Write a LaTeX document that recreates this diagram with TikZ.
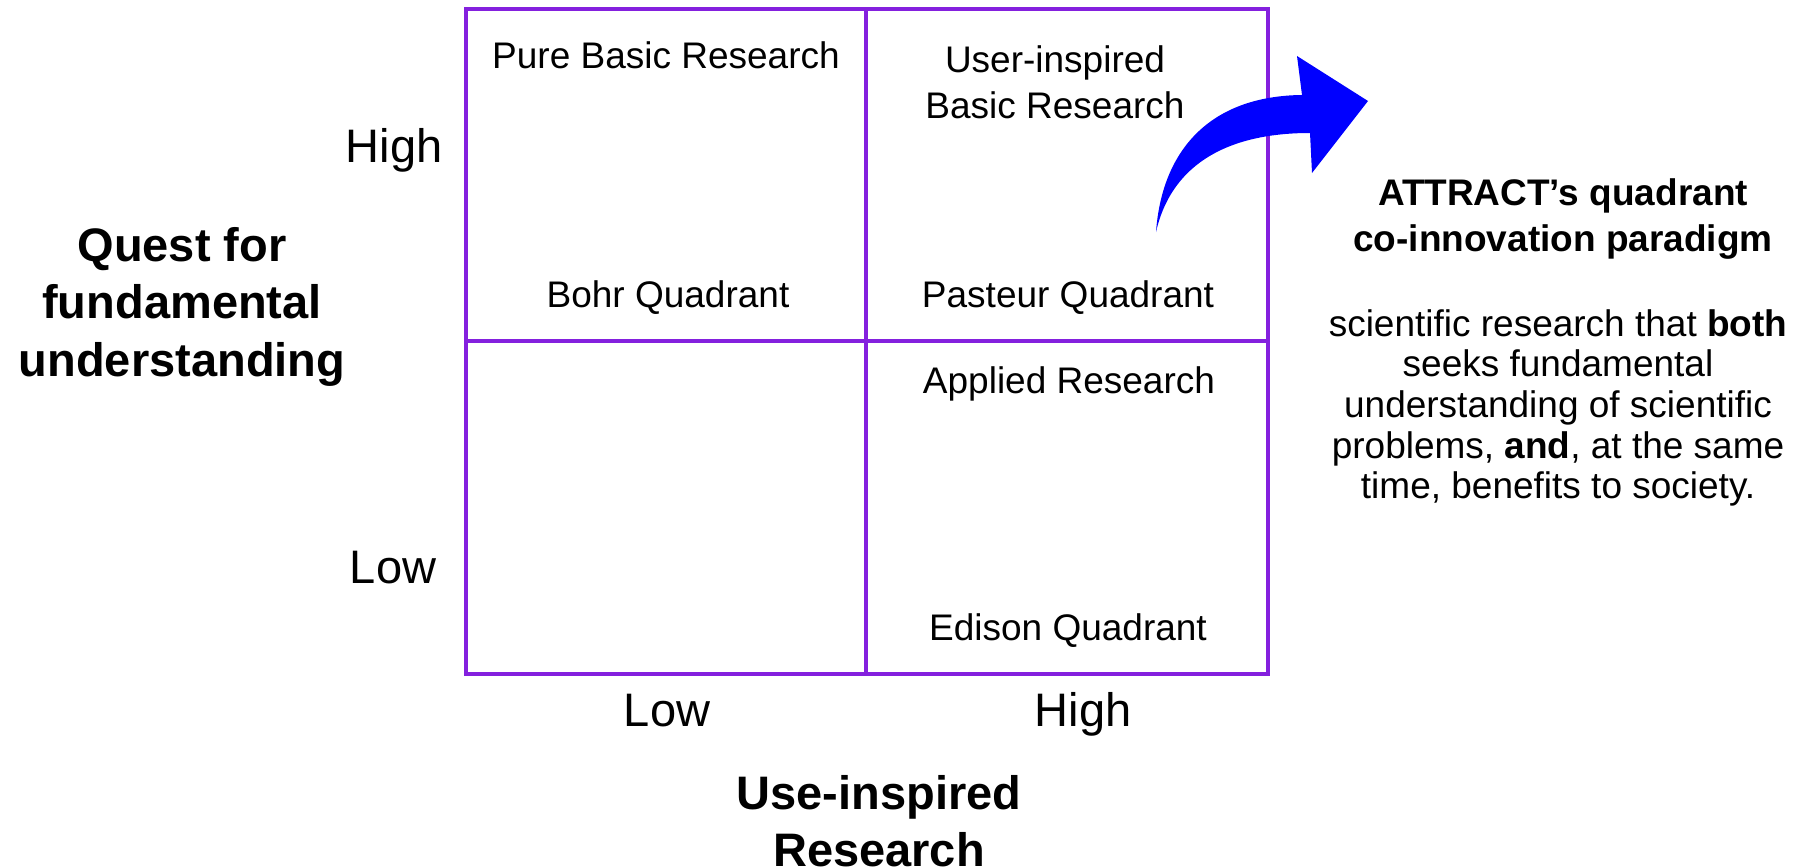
\documentclass[tikz,border=0pt]{standalone}
\usepackage{fontspec}
\setmainfont{Liberation Sans}
\definecolor{gridpurple}{RGB}{132,32,222}
\definecolor{arrowblue}{RGB}{0,0,255}
\tikzset{
  lbl/.style={inner sep=0pt, align=center, font=\fontsize{37}{46}\selectfont},
  axlbl/.style={inner sep=0pt, align=center, font=\fontsize{47}{57}\selectfont},
  axtitle/.style={inner sep=0pt, align=center, font=\fontsize{47}{57.5}\selectfont\bfseries},
  sidetxt/.style={inner sep=0pt, align=center, font=\fontsize{37}{40.6}\selectfont},
  gridline/.style={draw=gridpurple, line width=4pt},
}
\begin{document}
\begin{tikzpicture}[x=1pt,y=-1pt]
\useasboundingbox (0,0) rectangle (1806,867);
% grid
\coordinate (tl) at (466,9);
\coordinate (br) at (1268,674);
\coordinate (mt) at (866,9);
\coordinate (mb) at (866,674);
\coordinate (ml) at (466,341);
\coordinate (mr) at (1268,341);
\draw[gridline] (tl) rectangle (br);
\draw[gridline] (mt) -- (mb);
\draw[gridline] (ml) -- (mr);
% quadrant labels
\node[lbl] (pure) at (666,55) {Pure Basic Research};
\node[lbl] (user) at (1055,82) {User-inspired\\Basic Research};
\node[lbl] (bohr) at (668,298) {Bohr Quadrant};
\node[lbl] (pasteur) at (1068,298) {Pasteur Quadrant};
\node[lbl] (applied) at (1069,384) {Applied Research};
\node[lbl] (edison) at (1068,631) {Edison Quadrant};
% axis labels
\node[axlbl] (yhigh) at (394,150) {High};
\node[axlbl] (ylow) at (393,568) {Low};
\node[axlbl] (xlow) at (667,711) {Low};
\node[axlbl] (xhigh) at (1083,714) {High};
\node[axtitle] (ytitle) at (182,306.5) {Quest for\\fundamental\\understanding};
\node[axtitle] (xtitle) at (879,821) {Use-inspired\\Research};
% side text
\node[sidetxt, font=\fontsize{37}{46}\selectfont\bfseries] (head) at (1563,219) {ATTRACT’s quadrant\\co-innovation paradigm};
\node[sidetxt] (body) at (1558,408) {scientific research that \textbf{both}\\seeks fundamental\\understanding of scientific\\problems, \textbf{and}, at the same\\time, benefits to society.};
% curved block arrow
\fill[arrowblue] (1156,232) .. controls (1162,150) and (1210,96) .. (1302,95)
  -- (1297,56) -- (1368,101) -- (1312,173) -- (1310,133)
  .. controls (1220,133) and (1170,170) .. (1156,232) -- cycle;
\end{tikzpicture}
\end{document}
